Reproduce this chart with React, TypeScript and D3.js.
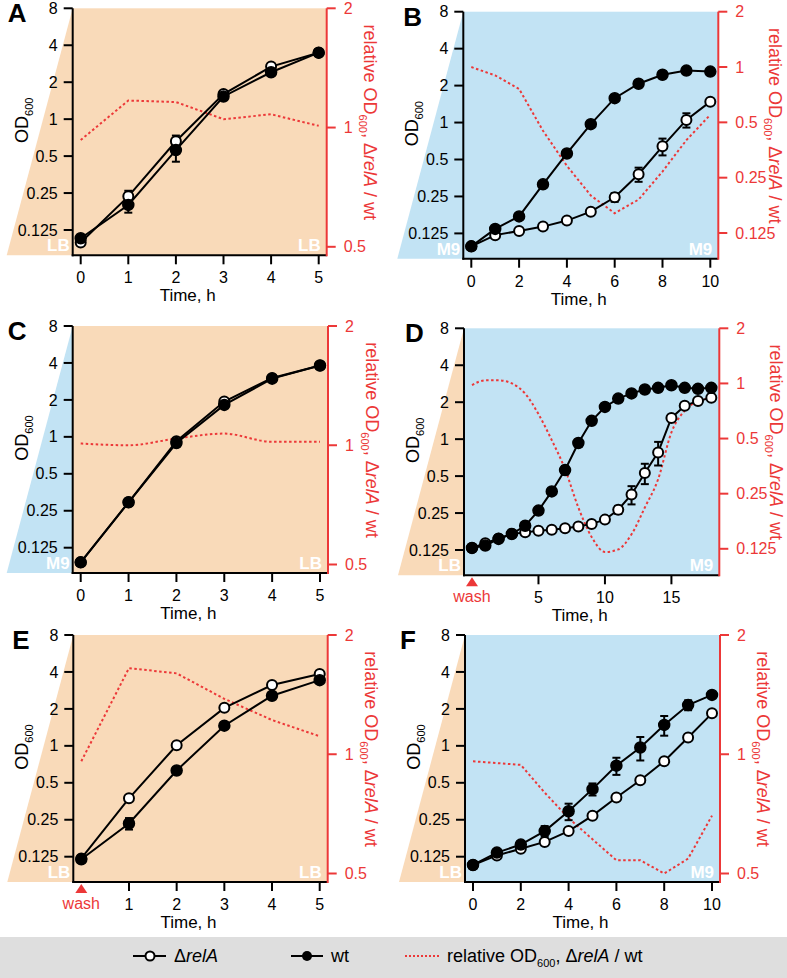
import React from 'react';
import * as d3 from 'd3';

const FONT = '"Liberation Sans", Arial, Helvetica, sans-serif';
const PEACH = '#f9dab9';
const BLUE = '#c2e3f4';
const RED = '#ec3838';

const leftTicks = [0.125, 0.25, 0.5, 1, 2, 4, 8];
const leftTickLabels = ['0.125', '0.25', '0.5', '1', '2', '4', '8'];
const ratioTicksShort = [0.5, 1, 2];
const ratioTicksShortLabels = ['0.5', '1', '2'];
const ratioTicksLong = [0.125, 0.25, 0.5, 1, 2];
const ratioTicksLongLabels = ['0.125', '0.25', '0.5', '1', '2'];

// Panel A (LB -> LB)
const timeA = [0, 1, 2, 3, 4, 5];
const relA_A = [0.099, 0.235, 0.66, 1.6, 2.68, 3.48];
const relAErr_A = [0, 0.026, 0.075, 0.06, 0, 0];
const wt_A = [0.107, 0.2, 0.56, 1.53, 2.41, 3.48];
const wtErr_A = [0, 0.027, 0.11, 0.07, 0, 0];
const ratio_A = [0.93, 1.17, 1.16, 1.05, 1.08, 1.01];
const xTicksA = [0, 1, 2, 3, 4, 5];

// Panel B (M9 -> M9)
const timeB = [0, 1, 2, 3, 4, 5, 6, 7, 8, 9, 10];
const relA_B = [0.098, 0.121, 0.131, 0.142, 0.159, 0.188, 0.246, 0.379, 0.64, 1.05, 1.48];
const relAErr_B = [0, 0, 0, 0, 0, 0, 0.02, 0.05, 0.1, 0.14, 0];
const wt_B = [0.098, 0.136, 0.172, 0.314, 0.56, 0.97, 1.58, 2.07, 2.45, 2.65, 2.6];
const wtErr_B = [0, 0, 0, 0, 0, 0, 0, 0, 0, 0, 0];
const ratio_B = [1.0, 0.9, 0.76, 0.45, 0.29, 0.2, 0.16, 0.19, 0.27, 0.4, 0.55];
const xTicksB = [0, 2, 4, 6, 8, 10];

// Panel C (M9 -> LB)
const timeC = [0, 1, 2, 3, 4, 5];
const relA_C = [0.095, 0.293, 0.92, 1.94, 3.02, 3.81];
const relAErr_C = [0, 0, 0, 0, 0, 0];
const wt_C = [0.095, 0.293, 0.89, 1.82, 2.98, 3.81];
const wtErr_C = [0, 0, 0, 0, 0, 0];
const ratio_C = [1.01, 1.0, 1.04, 1.07, 1.02, 1.02];
const xTicksC = [0, 1, 2, 3, 4, 5];

// Panel D (LB -> wash -> M9)
const timeD = [0, 1, 2, 3, 4, 5, 6, 7, 8, 9, 10, 11, 12, 13, 14, 15, 16, 17, 18];
const relA_D = [0.13, 0.142, 0.155, 0.169, 0.174, 0.179, 0.183, 0.188, 0.194, 0.204, 0.221, 0.266, 0.354, 0.53, 0.78, 1.49, 1.87, 2.05, 2.17];
const relAErr_D = [0, 0, 0, 0, 0, 0, 0, 0, 0, 0, 0, 0.02, 0.06, 0.1, 0.17, 0.08, 0, 0, 0];
const wt_D = [0.13, 0.136, 0.154, 0.169, 0.197, 0.262, 0.375, 0.56, 0.93, 1.41, 1.83, 2.14, 2.36, 2.54, 2.62, 2.75, 2.62, 2.57, 2.62];
const wtErr_D = [0, 0, 0, 0, 0, 0, 0, 0.045, 0.06, 0, 0, 0, 0, 0, 0, 0, 0, 0, 0];
const ratio_D = [0.98, 1.04, 1.04, 1.0, 0.88, 0.68, 0.49, 0.34, 0.21, 0.145, 0.12, 0.124, 0.15, 0.21, 0.3, 0.54, 0.71, 0.8, 0.83];
const xTicksD = [5, 10, 15];

// Panel E (LB -> wash -> LB)
const timeE = [0, 1, 2, 3, 4, 5];
const relA_E = [0.121, 0.374, 1.01, 2.04, 3.13, 3.85];
const relAErr_E = [0, 0, 0, 0, 0, 0];
const wt_E = [0.119, 0.233, 0.63, 1.46, 2.56, 3.43];
const wtErr_E = [0, 0.025, 0.035, 0, 0, 0];
const ratio_E = [0.96, 1.65, 1.6, 1.38, 1.22, 1.11];
const xTicksE = [1, 2, 3, 4, 5];

// Panel F (LB -> M9)
const timeF = [0, 1, 2, 3, 4, 5, 6, 7, 8, 9, 10];
const relA_F = [0.107, 0.128, 0.145, 0.165, 0.202, 0.27, 0.38, 0.525, 0.75, 1.17, 1.84];
const relAErr_F = [0, 0, 0, 0, 0, 0, 0, 0, 0, 0, 0];
const wt_F = [0.107, 0.135, 0.157, 0.202, 0.293, 0.444, 0.69, 0.97, 1.48, 2.15, 2.6];
const wtErr_F = [0, 0, 0.01, 0.02, 0.045, 0.05, 0.11, 0.21, 0.27, 0.2, 0];
const ratio_F = [0.96, 0.95, 0.94, 0.8, 0.69, 0.61, 0.54, 0.54, 0.5, 0.545, 0.7];
const xTicksF = [0, 2, 4, 6, 8, 10];

type PanelCfg = {
  letter: string; left: number; right: number; top: number; letterDx: number;
  wedge: string; plot: string; wedgeLabel: string; plotLabel: string;
  time: number[]; relA: number[]; relAErr: number[]; wt: number[]; wtErr: number[]; ratio: number[];
  xMax: number; xTicks: number[]; wash: boolean;
  ratioTicks: number[]; ratioLabels: string[]; ratioSpan: number; rTitleDx: number; smooth: boolean;
};

const panels: PanelCfg[] = [
  { letter: 'A', left: 72.7, right: 326.7, top: 8.3, letterDx: -65, wedge: PEACH, plot: PEACH, wedgeLabel: 'LB', plotLabel: 'LB',
    time: timeA, relA: relA_A, relAErr: relAErr_A, wt: wt_A, wtErr: wtErr_A, ratio: ratio_A, xMax: 5, xTicks: xTicksA, wash: false,
    ratioTicks: ratioTicksShort, ratioLabels: ratioTicksShortLabels, ratioSpan: 238.5, rTitleDx: 37, smooth: false },
  { letter: 'B', left: 463.3, right: 718.3, top: 11.7, letterDx: -60, wedge: BLUE, plot: BLUE, wedgeLabel: 'M9', plotLabel: 'M9',
    time: timeB, relA: relA_B, relAErr: relAErr_B, wt: wt_B, wtErr: wtErr_B, ratio: ratio_B, xMax: 10, xTicks: xTicksB, wash: false,
    ratioTicks: ratioTicksLong, ratioLabels: ratioTicksLongLabels, ratioSpan: 221.3, rTitleDx: 51, smooth: false },
  { letter: 'C', left: 72.7, right: 328, top: 326, letterDx: -65, wedge: BLUE, plot: PEACH, wedgeLabel: 'M9', plotLabel: 'LB',
    time: timeC, relA: relA_C, relAErr: relAErr_C, wt: wt_C, wtErr: wtErr_C, ratio: ratio_C, xMax: 5, xTicks: xTicksC, wash: false,
    ratioTicks: ratioTicksShort, ratioLabels: ratioTicksShortLabels, ratioSpan: 238.5, rTitleDx: 38, smooth: true },
  { letter: 'D', left: 464, right: 719.3, top: 328.3, letterDx: -59, wedge: PEACH, plot: BLUE, wedgeLabel: 'LB', plotLabel: 'M9',
    time: timeD, relA: relA_D, relAErr: relAErr_D, wt: wt_D, wtErr: wtErr_D, ratio: ratio_D, xMax: 18, xTicks: xTicksD, wash: true,
    ratioTicks: ratioTicksLong, ratioLabels: ratioTicksLongLabels, ratioSpan: 220.5, rTitleDx: 51, smooth: true },
  { letter: 'E', left: 73.3, right: 327.7, top: 635, letterDx: -61, wedge: PEACH, plot: PEACH, wedgeLabel: 'LB', plotLabel: 'LB',
    time: timeE, relA: relA_E, relAErr: relAErr_E, wt: wt_E, wtErr: wtErr_E, ratio: ratio_E, xMax: 5, xTicks: xTicksE, wash: true,
    ratioTicks: ratioTicksShort, ratioLabels: ratioTicksShortLabels, ratioSpan: 238.5, rTitleDx: 37, smooth: false },
  { letter: 'F', left: 465, right: 720, top: 635, letterDx: -65, wedge: PEACH, plot: BLUE, wedgeLabel: 'LB', plotLabel: 'M9',
    time: timeF, relA: relA_F, relAErr: relAErr_F, wt: wt_F, wtErr: wtErr_F, ratio: ratio_F, xMax: 10, xTicks: xTicksF, wash: false,
    ratioTicks: ratioTicksShort, ratioLabels: ratioTicksShortLabels, ratioSpan: 238.5, rTitleDx: 37, smooth: false },
];

function Panel({ c }: { c: PanelCfg }) {
  const { left, right, top } = c;
  const bottom = top + 247;
  const x = d3.scaleLinear().domain([0, c.xMax]).range([left + 8, right - 8]);
  const y = d3.scaleLog().base(2).domain([0.125, 8]).range([top + 221.7, top]);
  const yr = d3.scaleLog().base(2).domain([c.ratioTicks[0], 2]).range([top + c.ratioSpan, top]);
  const line = d3.line<[number, number]>().x(d => x(d[0])).y(d => y(d[1]));
  const rline = d3.line<[number, number]>().x(d => x(d[0])).y(d => yr(d[1]))
    .curve(c.smooth ? d3.curveMonotoneX : d3.curveLinear);
  const relPts = c.time.map((t, i) => [t, c.relA[i]] as [number, number]);
  const wtPts = c.time.map((t, i) => [t, c.wt[i]] as [number, number]);
  const ratioPts = c.time.map((t, i) => [t, c.ratio[i]] as [number, number]);

  const errBars = (vals: number[], errs: number[], key: string) =>
    c.time.map((t, i) => {
      const e = errs[i];
      if (!e) return null;
      const cx = x(t);
      const y1 = y(vals[i] + e);
      const y2 = y(Math.max(vals[i] - e, 0.01));
      return (
        <g key={key + i} stroke="#000" strokeWidth={2}>
          <line x1={cx} x2={cx} y1={y1} y2={y2} />
          <line x1={cx - 4} x2={cx + 4} y1={y1} y2={y1} />
          <line x1={cx - 4} x2={cx + 4} y1={y2} y2={y2} />
        </g>
      );
    });

  const midX = (left + right) / 2 - 12;
  return (
    <g>
      <polygon points={`${left},${top} ${left},${bottom} ${left - 66},${bottom}`} fill={c.wedge} />
      <rect x={left} y={top} width={right - left} height={bottom - top} fill={c.plot} />
      <text x={left - 3} y={bottom - 4} textAnchor="end" fontWeight="bold" fontSize={17} fill="#fff">{c.wedgeLabel}</text>
      <text x={right - 6} y={bottom - 4} textAnchor="end" fontWeight="bold" fontSize={17} fill="#fff">{c.plotLabel}</text>

      {/* ratio line */}
      <path d={rline(ratioPts) || ''} fill="none" stroke={RED} strokeWidth={2} strokeDasharray="2.5,2.5" />

      {/* data lines */}
      <path d={line(relPts) || ''} fill="none" stroke="#000" strokeWidth={2} />
      <path d={line(wtPts) || ''} fill="none" stroke="#000" strokeWidth={2} />
      {errBars(c.relA, c.relAErr, 'ea')}
      {errBars(c.wt, c.wtErr, 'ew')}
      {relPts.map((p, i) => (
        <circle key={'r' + i} cx={x(p[0])} cy={y(p[1])} r={5} fill="#fff" stroke="#000" strokeWidth={2} />
      ))}
      {wtPts.map((p, i) => (
        <circle key={'w' + i} cx={x(p[0])} cy={y(p[1])} r={5.5} fill="#000" stroke="#000" strokeWidth={1.5} />
      ))}

      {/* left axis */}
      <line x1={left} x2={left} y1={top} y2={bottom + 1} stroke="#000" strokeWidth={2} />
      {leftTicks.map((t, i) => (
        <g key={'lt' + i}>
          <line x1={left - 9} x2={left} y1={y(t)} y2={y(t)} stroke="#000" strokeWidth={2} />
          <text x={left - 15} y={y(t)} dy="0.35em" textAnchor="end" fontSize={16}>{leftTickLabels[i]}</text>
        </g>
      ))}
      <text transform={`translate(${left - 45},${top + 112}) rotate(-90)`} textAnchor="middle" fontSize={18}>
        OD<tspan fontSize={11} dy={5}>600</tspan>
      </text>

      {/* bottom axis */}
      <line x1={left - 1} x2={right} y1={bottom} y2={bottom} stroke="#000" strokeWidth={2} />
      {c.xTicks.map((t, i) => (
        <g key={'xt' + i}>
          <line x1={x(t)} x2={x(t)} y1={bottom} y2={bottom + 9} stroke="#000" strokeWidth={2} />
          <text x={x(t)} y={bottom + 28} textAnchor="middle" fontSize={16}>{String(t)}</text>
        </g>
      ))}
      {c.wash && (
        <g>
          <polygon points={`${x(0) - 6},${bottom + 11} ${x(0) + 6},${bottom + 11} ${x(0)},${bottom + 2}`} fill={RED} />
          <text x={x(0)} y={bottom + 27} textAnchor="middle" fontSize={16} fill={RED}>wash</text>
        </g>
      )}
      <text x={midX} y={bottom + 46} textAnchor="middle" fontSize={17}>Time, h</text>

      {/* right axis */}
      <line x1={right} x2={right} y1={top} y2={bottom + 1} stroke={RED} strokeWidth={2} />
      {c.ratioTicks.map((t, i) => (
        <g key={'rt' + i}>
          <line x1={right} x2={right + 9} y1={yr(t)} y2={yr(t)} stroke={RED} strokeWidth={2} />
          <text x={right + 17} y={yr(t)} dy="0.35em" textAnchor="start" fontSize={16} fill={RED}>{c.ratioLabels[i]}</text>
        </g>
      ))}
      <text transform={`translate(${right + c.rTitleDx},${top + 114}) rotate(90)`} textAnchor="middle" fontSize={18} fill={RED}>
        relative OD<tspan fontSize={11} dy={5}>600</tspan><tspan dy={-5}>, Δ</tspan><tspan fontStyle="italic">relA</tspan> / wt
      </text>

      <text x={left + c.letterDx} y={top + 14} fontSize={26} fontWeight="bold">{c.letter}</text>
    </g>
  );
}

export default function App() {
  const ly = 956;
  return (
    <svg width={787} height={978} style={{ position: 'absolute', left: 0, top: 0, display: 'block', background: '#fff' }}
      fontFamily={FONT}>
      <rect x={0} y={0} width={787} height={978} fill="#fff" />
      {panels.map(p => <Panel key={p.letter} c={p} />)}
      <rect x={0} y={937} width={787} height={41} fill="#dedede" />
      <g>
        <line x1={133} x2={166} y1={ly} y2={ly} stroke="#000" strokeWidth={2} />
        <circle cx={150} cy={ly} r={4.5} fill="#fff" stroke="#000" strokeWidth={2} />
        <text x={174} y={ly + 6} fontSize={18}>Δ<tspan fontStyle="italic">relA</tspan></text>
        <line x1={291} x2={323} y1={ly} y2={ly} stroke="#000" strokeWidth={2} />
        <circle cx={307} cy={ly} r={5} fill="#000" />
        <text x={331} y={ly + 6} fontSize={18}>wt</text>
        <line x1={405} x2={439} y1={ly} y2={ly} stroke={RED} strokeWidth={2} strokeDasharray="2,2" />
        <text x={447} y={ly + 6} fontSize={18}>
          relative OD<tspan fontSize={11} dy={5}>600</tspan><tspan dy={-5}>, Δ</tspan><tspan fontStyle="italic">relA</tspan> / wt
        </text>
      </g>
    </svg>
  );
}
